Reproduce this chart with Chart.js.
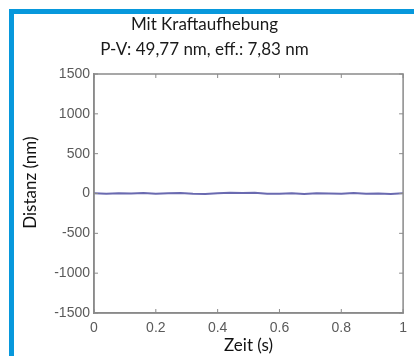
<!DOCTYPE html>
<html>
<head>
<meta charset="utf-8">
<script src="https://cdn.jsdelivr.net/npm/chart.js@4.4.1/dist/chart.umd.min.js"></script>
<style>
  html, body { margin: 0; padding: 0; background: #fff; }
  #wrap { position: relative; width: 414px; height: 356px; overflow: hidden; }
  #chart { position: absolute; left: 0; top: 0; }
  .frame { position: absolute; background: #0798dc; }
</style>
</head>
<body>
<div id="wrap">
  <canvas id="chart" width="414" height="356"></canvas>
  <div class="frame" style="left:9px; top:9px; width:405px; height:5px;"></div>
  <div class="frame" style="left:9px; top:9px; width:5px; height:347px;"></div>
</div>
<script>
// Chart data
const titleLines = ['Mit Kraftaufhebung', 'P-V: 49,77 nm, eff.: 7,83 nm'];
const xTitle = 'Zeit (s)';
const yTitle = 'Distanz (nm)';
const xTicks = [0, 0.2, 0.4, 0.6, 0.8, 1];
const yTicks = [-1500, -1000, -500, 0, 500, 1000, 1500];
const times = [0, 0.04, 0.08, 0.12, 0.16, 0.2, 0.24, 0.28, 0.32, 0.36, 0.4, 0.44, 0.48,
  0.52, 0.56, 0.6, 0.64, 0.68, 0.72, 0.76, 0.8, 0.84, 0.88, 0.92, 0.96, 1];
const distances = [2, -3, 4, -1, 5, -4, 2, 6, -2, -5, 3, 8, 5, 10, -3, -2, 4, -6,
  3, 1, -4, 5, -3, 1, -6, 2];

const grey = '#8a8a8a';

// MATLAB-style inward ticks and box
const boxTicks = {
  id: 'boxTicks',
  afterDatasetsDraw(chart) {
    const { ctx, chartArea: a, scales: { x, y } } = chart;
    ctx.save();
    ctx.strokeStyle = grey;
    ctx.lineWidth = 1;
    ctx.beginPath();
    xTicks.forEach(v => {
      const px = x.getPixelForValue(v);
      ctx.moveTo(px, a.bottom); ctx.lineTo(px, a.bottom - 4);
      ctx.moveTo(px, a.top); ctx.lineTo(px, a.top + 4);
    });
    yTicks.forEach(v => {
      const py = y.getPixelForValue(v);
      ctx.moveTo(a.left, py); ctx.lineTo(a.left + 4, py);
      ctx.moveTo(a.right, py); ctx.lineTo(a.right - 4, py);
    });
    ctx.stroke();
    ctx.lineWidth = 1.5;
    ctx.strokeRect(a.left, a.top, a.right - a.left, a.bottom - a.top);
    ctx.restore();
  }
};

new Chart(document.getElementById('chart').getContext('2d'), {
  type: 'line',
  data: {
    datasets: [{
      data: times.map((t, i) => ({ x: t, y: distances[i] })),
      borderColor: '#6a6ab0',
      borderWidth: 2,
      pointRadius: 0,
      tension: 0
    }]
  },
  options: {
    responsive: false,
    animation: false,
    layout: { padding: { left: 0, right: 5, top: 0, bottom: 0 } },
    plugins: {
      legend: { display: false },
      tooltip: { enabled: false },
      title: {
        display: true,
        text: titleLines,
        color: '#1a1a1a',
        font: { family: 'Lato', size: 17, weight: 'normal', lineHeight: 25 / 17 },
        padding: { top: 12, bottom: 12 }
      }
    },
    scales: {
      x: {
        type: 'linear',
        min: 0,
        max: 1,
        afterBuildTicks: s => { s.ticks = xTicks.map(v => ({ value: v })); },
        afterFit: s => { s.height = 43; },
        grid: { display: false, drawTicks: false },
        border: { color: grey, width: 1.5 },
        ticks: {
          color: '#5a5a5a',
          padding: 7,
          maxRotation: 0,
          font: { family: 'Liberation Sans', size: 14 },
          callback: v => String(v)
        },
        title: {
          display: true,
          text: xTitle,
          color: '#111',
          font: { family: 'Lato', size: 17, weight: 'normal', lineHeight: 1.2 },
          padding: { top: 0, bottom: 0 }
        }
      },
      y: {
        min: -1500,
        max: 1500,
        afterBuildTicks: s => { s.ticks = yTicks.map(v => ({ value: v })); },
        afterFit: s => { s.width = 94; },
        grid: { display: false, drawTicks: false },
        border: { color: grey, width: 1.5 },
        ticks: {
          color: '#5a5a5a',
          padding: 4,
          font: { family: 'Liberation Sans', size: 14 },
          callback: v => String(v)
        },
        title: {
          display: true,
          text: '     ' + yTitle,
          color: '#111',
          font: { family: 'Lato', size: 17, weight: 'normal', lineHeight: 1.2 },
          padding: { top: 20, bottom: 0 }
        }
      }
    }
  },
  plugins: [boxTicks]
});
</script>
</body>
</html>
